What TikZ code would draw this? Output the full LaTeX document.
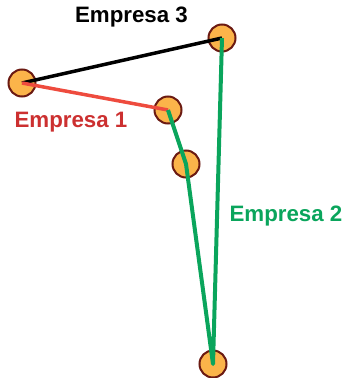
\documentclass[tikz,border=0pt]{standalone}
\usepackage{fontspec}
\setmainfont{Liberation Sans}
\definecolor{dotfill}{HTML}{FBB44A}
\definecolor{dotedge}{HTML}{6B1A12}
\definecolor{redline}{HTML}{EE4B3E}
\definecolor{redtext}{HTML}{CC3030}
\definecolor{greenline}{HTML}{0AA55C}
\begin{document}
\begin{tikzpicture}[x=1pt,y=-1pt,
  dot/.style={circle,draw=dotedge,fill=dotfill,line width=2pt,minimum size=27pt,inner sep=0pt},
  label/.style={font=\bfseries\fontsize{22.3}{22.3}\selectfont,inner sep=0pt},
  link/.style={line width=3.5pt}]
\useasboundingbox (0,0) rectangle (347,378);
% stations
\node[dot] (a) at (22,83) {};
\node[dot] (b) at (222,38) {};
\node[dot] (c) at (168,110) {};
\node[dot] (d) at (186,164) {};
\node[dot] (e) at (213,364) {};
% company routes
\draw[link,black] (a.center) -- (b.center);
\draw[link,redline] (a.center) -- (c.center);
\draw[link,greenline,line width=4pt,line join=round] (c.center) -- (d.center) -- (e.center) -- (b.center);
% captions
\node[label,text=black] (l3) at (131.5,17) {Empresa 3};
\node[label,text=redtext] (l1) at (71,122.5) {Empresa 1};
\node[label,text=greenline] (l2) at (286,216) {Empresa 2};
\end{tikzpicture}
\end{document}
